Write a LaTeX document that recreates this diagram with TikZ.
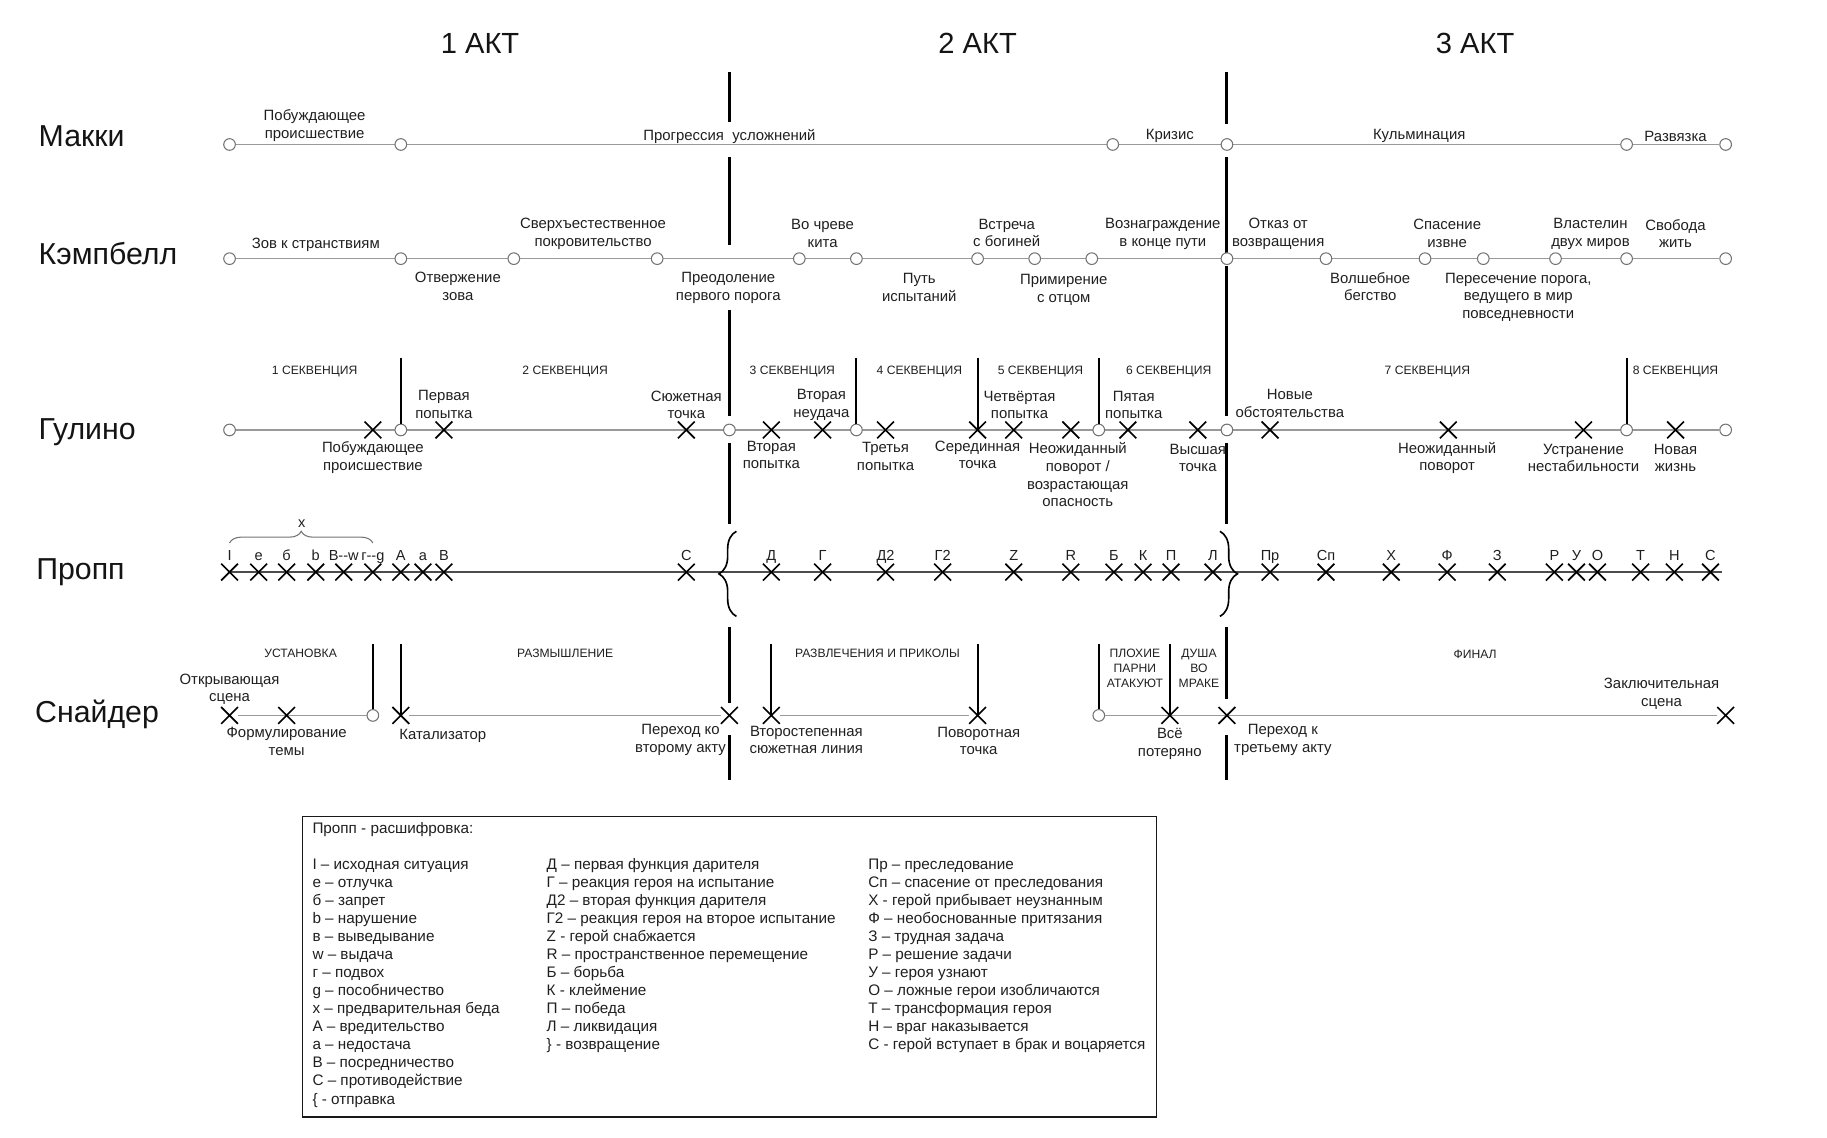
\documentclass[tikz,border=0pt]{standalone}
\usepackage{fontspec}
\setmainfont{Liberation Sans}
\usetikzlibrary{shapes.misc,decorations.pathreplacing}
\pgfdeclarelayer{bg}
\pgfsetlayers{bg,main}
\begin{document}
\begin{tikzpicture}[x=1pt,y=-1pt,
  tl/.style={draw=black!40,line width=1.3},
  pl/.style={draw=black!70,line width=2},
  dot/.style={circle,draw=black!55,fill=white,minimum size=10,inner sep=0,line width=0.9},
  xx/.style={cross out,draw=black,minimum size=13,inner sep=0,line width=1.4},
  act/.style={draw=black,line width=2.6},
  seqline/.style={draw=black,line width=1.7},
  lbl/.style={font=\fontsize{12.8}{15.2}\selectfont,align=center,text=black!88,inner sep=0},
  caps/.style={font=\fontsize{10.4}{12.6}\selectfont,align=center,text=black!88,inner sep=0},
  rowname/.style={font=\fontsize{26}{30}\selectfont,anchor=west,inner sep=0,text=black!92},
  actname/.style={font=\fontsize{25}{29}\selectfont,inner sep=0,text=black!92},
  pl lbl/.style={font=\fontsize{12.5}{15}\selectfont,anchor=base,inner sep=0,text=black!88},
  leg/.style={font=\fontsize{13.1}{15}\selectfont,anchor=base west,inner sep=0,text=black!88}]
\useasboundingbox (0,0) rectangle (1568,976);

% ---------- act titles ----------
\node[actname] (act1) at (412,37) {1 АКТ};
\node[actname] (act2) at (839,37) {2 АКТ};
\node[actname] (act3) at (1266,37) {3 АКТ};

% ---------- row names ----------
\node[rowname] (rMakki) at (33,117) {Макки};
\node[rowname] (rKemp) at (33,218) {Кэмпбелл};
\node[rowname] (rGul) at (33,371) {Гулино};
\node[rowname] (rProp) at (31,491) {Пропп};
\node[rowname] (rSnyd) at (30,613) {Снайдер};

% ---------- act dividers ----------
\foreach \a/\b [count=\i] in {62/105,135/210,266/357,380/450,538/603,631/669}{
  \coordinate (La\i) at (626,\a); \coordinate (Lb\i) at (626,\b);
  \draw[act] (La\i) -- (Lb\i);}
\foreach \a/\b [count=\i] in {62/106,135/217,228/357,380/450,538/600,631/669}{
  \coordinate (Ra\i) at (1053,\a); \coordinate (Rb\i) at (1053,\b);
  \draw[act] (Ra\i) -- (Rb\i);}

% ---------- Макки ----------
\foreach \x [count=\i] in {197,344,955,1053,1396,1481}
  \node[dot] (m\i) at (\x,124) {};
\begin{pgfonlayer}{bg}\draw[tl] (m1) -- (m6);\end{pgfonlayer}
\node[lbl] (mk1) at (270,107.5) {Побуждающее\\происшествие};
\node[lbl] (mk2) at (626,117) {Прогрессия\ \ усложнений};
\node[lbl] (mk3) at (1004,117) {Кризис};
\node[lbl] (mk4) at (1218,117) {Кульминация};
\node[lbl] (mk5) at (1438,117) {Развязка};

% ---------- Кэмпбелл ----------
\foreach \x [count=\i] in {197,344,441,564,686,735,839,888,937,1053,1138,1223,1273,1335,1396,1481}
  \node[dot] (k\i) at (\x,222) {};
\begin{pgfonlayer}{bg}\draw[tl] (k1) -- (k16);\end{pgfonlayer}
\node[lbl] (ka1) at (271,210) {Зов к странствиям};
\node[lbl] (ka2) at (509,200.5) {Сверхъестественное\\покровительство};
\node[lbl] (ka3) at (706,200.5) {Во чреве\\кита};
\node[lbl] (ka4) at (864,200) {Встреча\\с богиней};
\node[lbl] (ka5) at (998,200.5) {Вознаграждение\\в конце пути};
\node[lbl] (ka6) at (1097,200.5) {Отказ от\\возвращения};
\node[lbl] (ka7) at (1242,200.5) {Спасение\\извне};
\node[lbl] (ka8) at (1365,200.5) {Властелин\\двух миров};
\node[lbl] (ka9) at (1438,200.5) {Свобода\\жить};
\node[lbl] (kb1) at (393,246) {Отвержение\\зова};
\node[lbl] (kb2) at (625,247) {Преодоление\\первого порога};
\node[lbl] (kb3) at (789,246.5) {Путь\\испытаний};
\node[lbl] (kb4) at (913,248.5) {Примирение\\с отцом};
\node[lbl] (kb5) at (1176,246) {Волшебное\\бегство};
\node[lbl] (kb6) at (1303,255) {Пересечение порога,\\ведущего в мир\\повседневности};

% ---------- Гулино ----------
\foreach \x [count=\i] in {197,344,626,735,943,1053,1396,1481}
  \node[dot] (g\i) at (\x,369) {};
\foreach \x [count=\i] in {320,381,589,662,706,760,839,870,919,968,1028,1090,1243,1359,1438}
  \node[xx] (gx\i) at (\x,369) {};
\begin{pgfonlayer}{bg}\draw[tl] (g1) -- (g8);\end{pgfonlayer}
\foreach \x/\n in {344/g2,735/g4,943/g5,1396/g7}{
  \coordinate (gs\n) at (\x,307); \draw[seqline] (gs\n) -- (\n.north);}
\coordinate (gsm) at (839,307); \draw[seqline] (gsm) -- (gx7.center);
\node[caps] (sq1) at (270,319) {1 СЕКВЕНЦИЯ};
\node[caps] (sq2) at (485,319) {2 СЕКВЕНЦИЯ};
\node[caps] (sq3) at (680,319) {3 СЕКВЕНЦИЯ};
\node[caps] (sq4) at (789,319) {4 СЕКВЕНЦИЯ};
\node[caps] (sq5) at (893,319) {5 СЕКВЕНЦИЯ};
\node[caps] (sq6) at (1003,319) {6 СЕКВЕНЦИЯ};
\node[caps] (sq7) at (1225,319) {7 СЕКВЕНЦИЯ};
\node[caps] (sq8) at (1438,319) {8 СЕКВЕНЦИЯ};
\node[lbl] (ga1) at (381,347) {Первая\\попытка};
\node[lbl] (ga2) at (589,347.5) {Сюжетная\\точка};
\node[lbl] (ga3) at (705,347.5) {Вторая\\неудача};
\node[lbl] (ga4) at (875,347.5) {Четвёртая\\попытка};
\node[lbl] (ga5) at (973,347.5) {Пятая\\попытка};
\node[lbl] (ga6) at (1107,346.5) {Новые\\обстоятельства};
\node[lbl] (gb1) at (320,393) {Побуждающее\\происшествие};
\node[lbl] (gb2) at (662,390.5) {Вторая\\попытка};
\node[lbl] (gb3) at (760,391.5) {Третья\\попытка};
\node[lbl] (gb4) at (839,390.5) {Серединная\\точка};
\node[lbl] (gb5) at (925,407.5) {Неожиданный\\поворот /\\возрастающая\\опасность};
\node[lbl] (gb6) at (1028,393) {Высшая\\точка};
\node[lbl] (gb7) at (1242,393) {Неожиданный\\поворот};
\node[lbl] (gb8) at (1359,393) {Устранение\\нестабильности};
\node[lbl] (gb9) at (1438,393) {Новая\\жизнь};

% ---------- Пропп ----------
\coordinate (pS) at (197,491); \coordinate (pE) at (1478,491);
\draw[pl] (pS) -- (pE);
\foreach \x/\t [count=\i] in {197/I,222/е,246/б,271/b,295/В-{}-w,320/г-{}-g,344/А,363/а,381/В,589/С,662/Д,706/Г,760/Д2,809/Г2,870/Z,919/R,956/Б,981/К,1005/П,1041/Л,1090/Пр,1138/Сп,1194/Х,1242/Ф,1285/З,1334/Р,1353/У,1371/О,1408/Т,1437/Н,1468/С}{
  \node[xx] (px\i) at (\x,491) {};
  \node[pl lbl] (pt\i) at (\x,481) {\t};}
\coordinate (bx1) at (197,466); \coordinate (bx2) at (320,466);
\draw[black!55,line width=0.9,decorate,decoration={brace,amplitude=10}] (bx1) -- (bx2);
\node[pl lbl] (xlab) at (259,453) {x};
\coordinate (bo1) at (632,529); \coordinate (bo2) at (632,456);
\draw[black,line width=1.4,decorate,decoration={brace,amplitude=15}] (bo1) -- (bo2);
\coordinate (bc1) at (1047,456); \coordinate (bc2) at (1047,529);
\draw[black,line width=1.4,decorate,decoration={brace,amplitude=15}] (bc1) -- (bc2);

% ---------- Снайдер ----------
\foreach \x [count=\i] in {197,246,344,626,662,839,1004,1053,1481}
  \node[xx] (sx\i) at (\x,614) {};
\node[dot] (sc1) at (320,614) {};
\node[dot] (sc2) at (943,614) {};
\begin{pgfonlayer}{bg}
\draw[tl] (sx1) -- (sc1);
\draw[tl] (sx3) -- (sx4);
\draw[tl] (sx5) -- (sx6);
\draw[tl] (sc2) -- (sx9);
\end{pgfonlayer}
\foreach \x/\n in {320/sc1,943/sc2}{
  \coordinate (st\n) at (\x,553); \draw[seqline] (st\n) -- (\n.north);}
\foreach \x/\n in {344/sx3,662/sx5,839/sx6,1004/sx7}{
  \coordinate (st\n) at (\x,553); \draw[seqline] (st\n) -- (\n.center);}
\node[caps] (sn1) at (258,561) {УСТАНОВКА};
\node[caps] (sn2) at (485,561) {РАЗМЫШЛЕНИЕ};
\node[caps] (sn3) at (753,561) {РАЗВЛЕЧЕНИЯ И ПРИКОЛЫ};
\node[caps] (sn4) at (974,573.5) {ПЛОХИЕ\\ПАРНИ\\АТАКУЮТ};
\node[caps] (sn5) at (1029,573.5) {ДУША\\ВО\\МРАКЕ};
\node[caps] (sn6) at (1266,562) {ФИНАЛ};
\node[lbl] (sl1) at (197,591.5) {Открывающая\\сцена};
\node[lbl] (sl2) at (246,636) {Формулирование\\темы};
\node[lbl] (sl3) at (380,632) {Катализатор};
\node[lbl] (sl4) at (584,635) {Переход ко\\второму акту};
\node[lbl] (sl5) at (692,635) {Второстепенная\\сюжетная линия};
\node[lbl] (sl6) at (840,636) {Поворотная\\точка};
\node[lbl] (sl7) at (1004,638.5) {Всё\\потеряно};
\node[lbl] (sl8) at (1101,635) {Переход к\\третьему акту};
\node[lbl] (sl9) at (1426,595.5) {Заключительная\\сцена};

% ---------- legend ----------
\node[draw=black!90,line width=1.2,minimum width=733,minimum height=258,inner sep=0,anchor=north west] (legend) at (259,700) {};
\node[leg] (legt) at (268,715) {Пропп - расшифровка:};
\foreach \t [count=\i] in {I – исходная ситуация,е – отлучка,б – запрет,b – нарушение,в – выведывание,w – выдача,г – подвох,g – пособничество,х – предварительная беда,А – вредительство,а – недостача,В – посредничество,С – противодействие,\{ - отправка}
  \node[leg] (la\i) at (268,{746+15.5*(\i-1)}) {\t};
\foreach \t [count=\i] in {Д – первая функция дарителя,Г – реакция героя на испытание,Д2 – вторая функция дарителя,Г2 – реакция героя на второе испытание,Z - герой снабжается,R – пространственное перемещение,Б – борьба,К - клеймение,П – победа,Л – ликвидация,\} - возвращение}
  \node[leg] (lb\i) at (469,{746+15.5*(\i-1)}) {\t};
\foreach \t [count=\i] in {Пр – преследование,Сп – спасение от преследования,Х - герой прибывает неузнанным,Ф – необоснованные притязания,З – трудная задача,Р – решение задачи,У – героя узнают,О – ложные герои изобличаются,Т – трансформация героя,Н – враг наказывается,С - герой вступает в брак и воцаряется}
  \node[leg] (lc\i) at (745,{746+15.5*(\i-1)}) {\t};
\end{tikzpicture}
\end{document}
